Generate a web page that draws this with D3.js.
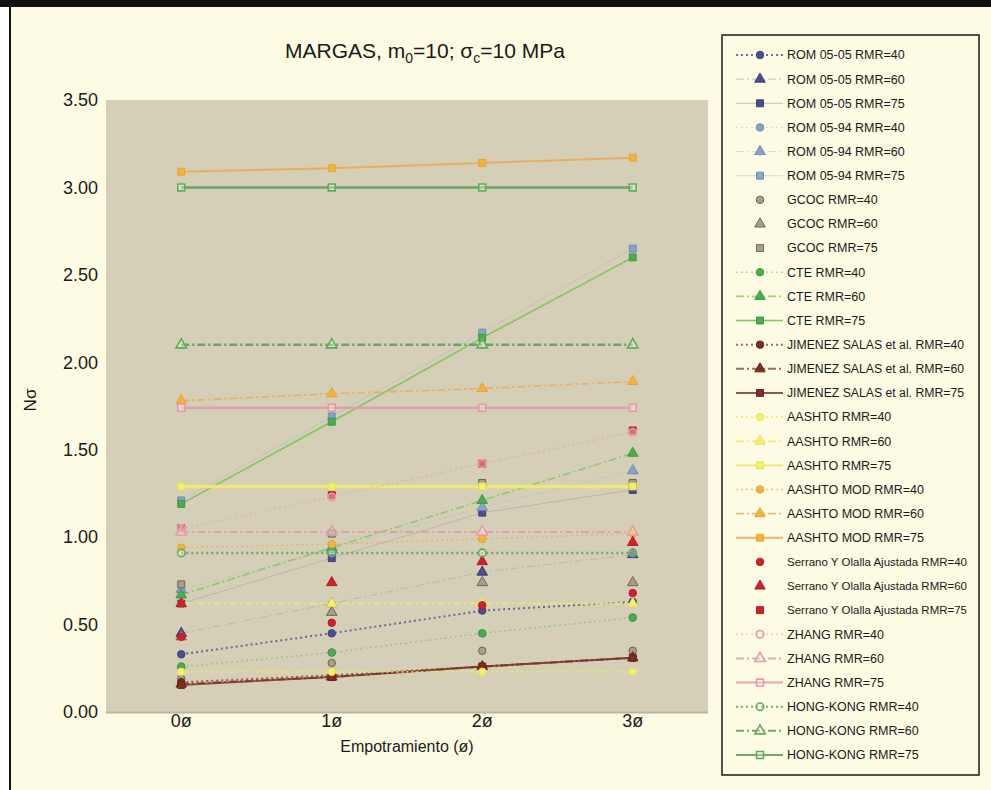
<!DOCTYPE html>
<html>
<head>
<meta charset="utf-8">
<script src="https://cdn.jsdelivr.net/npm/d3@7"></script>
<style>
  html, body { margin: 0; padding: 0; background: #ffffff; }
  svg { display: block; }
  text { font-family: "Liberation Sans", "Arial", sans-serif; fill: #1a1a1a; }
</style>
</head>
<body>
<svg id="chart" width="991" height="790"></svg>
<script>
// Embedment depth categories and axis ticks
const categories = ["0ø", "1ø", "2ø", "3ø"];
const yTicks = [0, 0.5, 1.0, 1.5, 2.0, 2.5, 3.0, 3.5];

// Methods and rock mass ratings (one series per pair)
const methods = ["ROM 05-05", "ROM 05-94", "GCOC", "CTE", "JIMENEZ SALAS et al.",
                 "AASHTO", "AASHTO MOD", "Serrano Y Olalla Ajustada", "ZHANG", "HONG-KONG"];
const rmrLevels = [40, 60, 75];

// N-sigma values per series, one value per embedment category
const rom0505_40 = [0.33, 0.45, 0.58, 0.63];
const rom0505_60 = [0.45, 0.62, 0.80, 0.90];
const rom0505_75 = [0.62, 0.88, 1.14, 1.27];
const rom0594_40 = [0.25, 0.34, 0.45, 0.54];
const rom0594_60 = [0.70, 0.93, 1.17, 1.38];
const rom0594_75 = [1.21, 1.69, 2.17, 2.65];
const gcoc_40 = [0.19, 0.28, 0.35, 0.35];
const gcoc_60 = [0.43, 0.57, 0.74, 0.74];
const gcoc_75 = [0.73, 1.02, 1.31, 1.31];
const cte_40 = [0.26, 0.34, 0.45, 0.54];
const cte_60 = [0.67, 0.94, 1.21, 1.48];
const cte_75 = [1.19, 1.66, 2.14, 2.60];
const jimenez_40 = [0.17, 0.21, 0.26, 0.31];
const jimenez_60 = [0.16, 0.20, 0.26, 0.31];
const jimenez_75 = [0.155, 0.20, 0.26, 0.31];
const aashto_40 = [0.23, 0.23, 0.23, 0.23];
const aashto_60 = [0.62, 0.62, 0.62, 0.62];
const aashto_75 = [1.29, 1.29, 1.29, 1.29];
const aashtoMod_40 = [0.94, 0.96, 0.99, 1.02];
const aashtoMod_60 = [1.78, 1.82, 1.85, 1.89];
const aashtoMod_75 = [3.09, 3.11, 3.14, 3.17];
const serrano_40 = [0.43, 0.51, 0.61, 0.68];
const serrano_60 = [0.62, 0.74, 0.86, 0.97];
const serrano_75 = [1.05, 1.24, 1.42, 1.61];
const zhang_40 = [1.05, 1.23, 1.42, 1.60];
const zhang_60 = [1.03, 1.03, 1.03, 1.03];
const zhang_75 = [1.74, 1.74, 1.74, 1.74];
const hongKong_40 = [0.91, 0.91, 0.91, 0.91];
const hongKong_60 = [2.10, 2.10, 2.10, 2.10];
const hongKong_75 = [3.00, 3.00, 3.00, 3.00];

const seriesValues = [
  rom0505_40, rom0505_60, rom0505_75,
  rom0594_40, rom0594_60, rom0594_75,
  gcoc_40, gcoc_60, gcoc_75,
  cte_40, cte_60, cte_75,
  jimenez_40, jimenez_60, jimenez_75,
  aashto_40, aashto_60, aashto_75,
  aashtoMod_40, aashtoMod_60, aashtoMod_75,
  serrano_40, serrano_60, serrano_75,
  zhang_40, zhang_60, zhang_75,
  hongKong_40, hongKong_60, hongKong_75
];

// Look of each method: marker colours, line colour/opacity, hollow markers
const methodStyle = {
  "ROM 05-05": { fill: "#4b4f8e", stroke: "#3d4178", line: "#4b4f8e", lineOp: [0.8, 0.2, 0.2], width: [2, 1, 1], hasLine: true },
  "ROM 05-94": { fill: "#86a3c9", stroke: "#6f8db5", line: "#86a3c9", lineOp: [0.25, 0.25, 0.25], width: [1, 1, 1], hasLine: true },
  "GCOC": { fill: "#a89f8e", stroke: "#6d6557", line: "#6d6557", lineOp: [0, 0, 0], width: [0, 0, 0], hasLine: false },
  "CTE": { fill: "#4dac4d", stroke: "#3f9a42", line: "#79c45a", lineOp: [0.55, 0.75, 0.95], width: [1.6, 1.6, 1.5], hasLine: true },
  "JIMENEZ SALAS et al.": { fill: "#7a2e24", stroke: "#6a241c", line: "#7a2e24", lineOp: [0.7, 0.7, 0.8], width: [2, 2, 2], hasLine: true },
  "AASHTO": { fill: "#f4f06c", stroke: "#e6e05a", line: "#efeb6a", lineOp: [0.8, 0.8, 0.9], width: [2, 2, 3.5], hasLine: true },
  "AASHTO MOD": { fill: "#f1b43e", stroke: "#e6a634", line: "#eba95a", lineOp: [0.7, 0.8, 0.9], width: [1.6, 1.8, 2], hasLine: true },
  "Serrano Y Olalla Ajustada": { fill: "#d2202e", stroke: "#b81a26", line: "#d2202e", lineOp: [0, 0, 0], width: [0, 0, 0], hasLine: false },
  "ZHANG": { fill: "none", stroke: "#e39aac", line: "#e39aac", lineOp: [0.5, 0.85, 0.9], width: [1.5, 2, 2.5], hasLine: true, hollow: true },
  "HONG-KONG": { fill: "none", stroke: "#5ead5e", line: "#5f9e5f", lineOp: [0.85, 0.9, 0.9], width: [2.5, 2.5, 2.5], hasLine: true, hollow: true }
};
// Line dash and marker symbol per RMR level
const rmrDash = ["2,3", "8,3,2,3", null];
const rmrSymbol = [d3.symbolCircle, d3.symbolTriangle, d3.symbolSquare];
const rmrSymbolSize = [44, 48, 48];

const series = [];
methods.forEach((m, mi) => {
  rmrLevels.forEach((r, ri) => {
    series.push({ method: m, rmrIndex: ri, name: `${m} RMR=${r}`, values: seriesValues[mi * 3 + ri] });
  });
});

const svg = d3.select("#chart");
const W = 991, H = 790;

// Frame and page background
svg.append("rect").attr("x", 11).attr("y", 6).attr("width", W - 11).attr("height", H - 6).attr("fill", "#fdfbe3");
svg.append("rect").attr("x", 0).attr("y", 0).attr("width", W).attr("height", 7).attr("fill", "#111");
svg.append("rect").attr("x", 9).attr("y", 0).attr("width", 2).attr("height", H).attr("fill", "#111");

const plot = { left: 106, right: 708, top: 100, bottom: 712 };

const x = d3.scaleBand().domain(categories).range([plot.left, plot.right]);
const y = d3.scaleLinear().domain([0, 3.5]).range([plot.bottom, plot.top]);
const cx = c => x(c) + x.bandwidth() / 2;

// Plot background
svg.append("rect")
  .attr("x", plot.left).attr("y", plot.top)
  .attr("width", plot.right - plot.left).attr("height", plot.bottom - plot.top)
  .attr("fill", "#d5cfb7");
svg.append("line")
  .attr("x1", plot.left).attr("x2", plot.right)
  .attr("y1", plot.bottom + 0.5).attr("y2", plot.bottom + 0.5)
  .attr("stroke", "#bab59f").attr("stroke-width", 2);

// Title with subscripts
const title = svg.append("text")
  .attr("x", 425).attr("y", 58)
  .attr("text-anchor", "middle")
  .style("font-size", "21px");
title.append("tspan").text("MARGAS, m");
title.append("tspan").attr("dy", 5).style("font-size", "14px").text("0");
title.append("tspan").attr("dy", -5).text("=10; σ");
title.append("tspan").attr("dy", 5).style("font-size", "14px").text("c");
title.append("tspan").attr("dy", -5).text("=10 MPa");

// Y axis labels
const yAxis = d3.axisLeft(y).tickValues(yTicks).tickFormat(d3.format(".2f")).tickSize(0).tickPadding(8);
const gy = svg.append("g").attr("transform", `translate(${plot.left},0)`).call(yAxis);
gy.select(".domain").remove();
gy.selectAll("text").style("font-size", "18px").attr("fill", "#1a1a1a");

// X axis labels
const xAxis = d3.axisBottom(x).tickSize(0).tickPadding(2);
const gx = svg.append("g").attr("transform", `translate(0,${plot.bottom})`).call(xAxis);
gx.select(".domain").remove();
gx.selectAll("text").style("font-size", "18px").attr("fill", "#1a1a1a");

// Axis titles
svg.append("text").attr("x", 407).attr("y", 752).attr("text-anchor", "middle")
  .style("font-size", "16px").text("Empotramiento (ø)");
svg.append("text").attr("transform", "translate(36,400) rotate(-90)").attr("text-anchor", "middle")
  .style("font-size", "17px").text("Nσ");

// Series lines
const lineGen = d3.line().x((d, i) => cx(categories[i])).y(d => y(d));
const gLines = svg.append("g");
const gMarks = svg.append("g");

function drawMarker(g, s, px, py) {
  const st = methodStyle[s.method];
  g.append("path")
    .attr("d", d3.symbol().type(rmrSymbol[s.rmrIndex]).size(rmrSymbolSize[s.rmrIndex])())
    .attr("transform", `translate(${px},${py})`)
    .attr("fill", st.hollow ? "rgba(253,251,227,0.35)" : st.fill)
    .attr("stroke", st.stroke)
    .attr("stroke-width", st.hollow ? 1.6 : 1);
}

series.forEach(s => {
  const st = methodStyle[s.method];
  if (st.hasLine) {
    gLines.append("path")
      .datum(s.values)
      .attr("d", lineGen)
      .attr("fill", "none")
      .attr("stroke", st.line)
      .attr("stroke-opacity", st.lineOp[s.rmrIndex])
      .attr("stroke-width", st.width[s.rmrIndex])
      .attr("stroke-dasharray", rmrDash[s.rmrIndex]);
  }
  const g = gMarks.append("g");
  s.values.forEach((v, i) => drawMarker(g, s, cx(categories[i]), y(v)));
});

// Legend
const leg = { x: 722, y: 35, w: 257, h: 740 };
svg.append("rect").attr("x", leg.x).attr("y", leg.y).attr("width", leg.w).attr("height", leg.h)
  .attr("fill", "#fdfbe3").attr("stroke", "#1a1a1a").attr("stroke-width", 1.5);
const rowY = d3.scalePoint().domain(series.map(s => s.name)).range([55, 755]);
// Long legend labels use a smaller size and are squeezed to fit the box
const legendTextSize = { "Serrano Y Olalla Ajustada": 11.5 };
const legendTextWidth = { "JIMENEZ SALAS et al.": 177, "Serrano Y Olalla Ajustada": 180 };
series.forEach(s => {
  const st = methodStyle[s.method];
  const yy = rowY(s.name);
  const g = svg.append("g");
  if (st.hasLine) {
    g.append("line").attr("x1", 736).attr("x2", 783).attr("y1", yy).attr("y2", yy)
      .attr("stroke", st.line)
      .attr("stroke-opacity", Math.max(st.lineOp[s.rmrIndex], 0.35))
      .attr("stroke-width", Math.min(st.width[s.rmrIndex], 2))
      .attr("stroke-dasharray", rmrDash[s.rmrIndex]);
  }
  drawMarker(g, s, 760, yy);
  const t = g.append("text").attr("x", 787).attr("y", yy).attr("dy", "0.35em")
    .style("font-size", (legendTextSize[s.method] || 12.5) + "px").text(s.name);
  if (legendTextWidth[s.method]) {
    t.attr("textLength", legendTextWidth[s.method]).attr("lengthAdjust", "spacingAndGlyphs");
  }
});
</script>
</body>
</html>
